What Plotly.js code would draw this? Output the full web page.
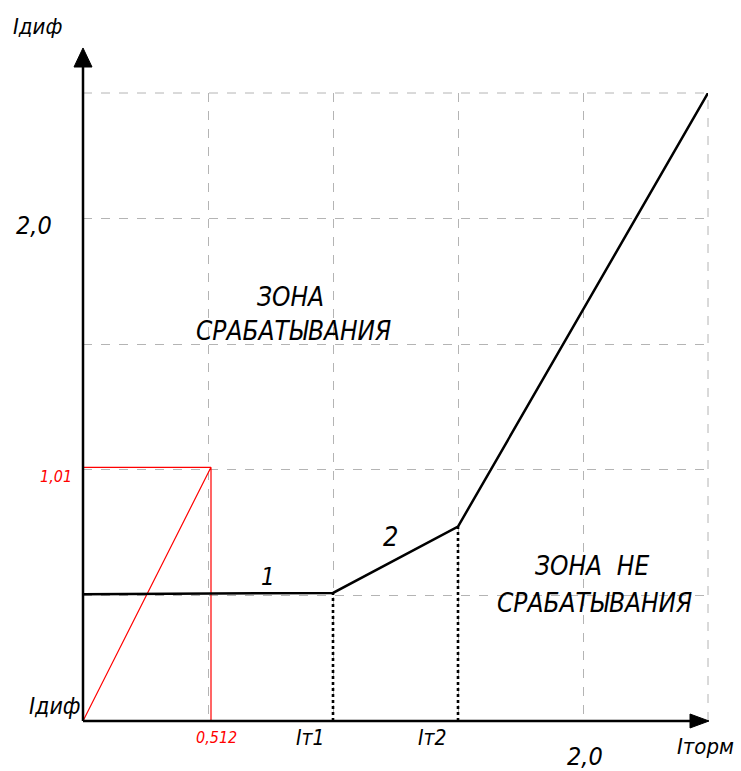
<!DOCTYPE html>
<html>
<head>
<meta charset="utf-8">
<script src="https://cdn.plot.ly/plotly-3.0.1.min.js"></script>
<style>html,body{margin:0;padding:0;background:#fff}#chart{width:741px;height:771px}</style>
</head>
<body>
<div id="chart"></div>
<script>
// characteristic (black) line
const restraintCurrent = [0, 1.0, 1.5, 2.5];
const diffCurrent = [0.505, 0.51, 0.774, 2.5];
// red check point
const checkX = 0.512;
const checkY = 1.01;
// breakpoint markers (dotted verticals)
const breakX = [1.0, 1.5];
const breakY = [0.51, 0.774];
// labels
const checkXLabel = "0,512";
const checkYLabel = "1,01";
const breakLabels = ["Iт1", "Iт2"];
const xTickLabel = "2,0";
const yTickLabel = "2,0";
const xAxisTitle = "Iторм";
const yAxisTitle = "Iдиф";
const originLabel = "Iдиф";
const segmentLabels = ["1", "2"];
const zoneTrip = ["ЗОНА", "СРАБАТЫВАНИЯ"];
const zoneNoTrip = ["ЗОНА  НЕ", "СРАБАТЫВАНИЯ"];

const AXMAX = 2.5;
const FONT = "Liberation Sans Narrow, DejaVu Sans Condensed, Arial Narrow, sans-serif";

const traces = [];
// red construction
traces.push({
  x: [0, checkX, checkX, null, 0, checkX],
  y: [0, checkY, 0, null, checkY, checkY],
  mode: "lines", line: {color: "#ff0000", width: 1.2},
  cliponaxis: false, hoverinfo: "skip", showlegend: false
});
// dotted verticals
breakX.forEach((bx, i) => {
  traces.push({
    x: [bx, bx], y: [0, breakY[i]],
    mode: "lines", line: {color: "#000", width: 2.6, dash: "dot"},
    cliponaxis: false, hoverinfo: "skip", showlegend: false
  });
});
// main characteristic
traces.push({
  x: restraintCurrent, y: diffCurrent,
  mode: "lines", line: {color: "#000", width: 2.5},
  cliponaxis: false, hoverinfo: "skip", showlegend: false
});

// annotations placed in paper space (value / axis max) so they may sit outside the plot
function ann(text, x, y, size, color) {
  return {text: text, x: x / AXMAX, y: y / AXMAX, xref: "paper", yref: "paper", showarrow: false,
    xanchor: "center", yanchor: "middle",
    font: {family: FONT, size: size, color: color || "#000", style: "italic"}};
}

const annotations = [
  ann(yAxisTitle, -0.184, 2.763, 22),
  ann(yTickLabel, -0.196, 1.971, 25),
  ann(checkYLabel, -0.108, 0.975, 16, "#ff0000"),
  ann(originLabel, -0.112, 0.060, 23),
  ann(checkXLabel, 0.532, -0.064, 16, "#ff0000"),
  ann(breakLabels[0], 0.908, -0.068, 21),
  ann(breakLabels[1], 1.396, -0.068, 21),
  ann(xTickLabel, 2.008, -0.143, 25),
  ann(xAxisTitle, 2.49, -0.10, 22),
  ann(zoneTrip[0], 0.828, 1.688, 26),
  ann(zoneTrip[1], 0.84, 1.553, 26),
  ann(zoneNoTrip[0], 2.036, 0.617, 26),
  ann(zoneNoTrip[1], 2.044, 0.470, 26),
  ann(segmentLabels[0], 0.74, 0.573, 24),
  ann(segmentLabels[1], 1.228, 0.736, 27)
];

const gridStyle = {color: "#b4b4b4", width: 1, dash: "dash"};
const shapes = [
  // outer (top / right) grid lines
  {type: "line", xref: "paper", yref: "paper", x0: 0, y0: 1, x1: 1, y1: 1, line: gridStyle, layer: "below"},
  {type: "line", xref: "paper", yref: "paper", x0: 1, y0: 0, x1: 1, y1: 1, line: gridStyle, layer: "below"},
  // axis lines with arrowheads (paper coordinates)
  {type: "line", xref: "paper", yref: "paper", x0: 0, y0: 0, x1: 0.975, y1: 0,
   line: {color: "#000", width: 2.5}, layer: "above"},
  {type: "line", xref: "paper", yref: "paper", x0: 0, y0: 0, x1: 0, y1: 1.045,
   line: {color: "#000", width: 2.5}, layer: "above"},
  {type: "path", xref: "paper", yref: "paper",
   path: "M 1.0016,0 L 0.9712,0.0111 L 0.9712,-0.0111 Z",
   fillcolor: "#000", line: {color: "#000", width: 1}, layer: "above"},
  {type: "path", xref: "paper", yref: "paper",
   path: "M 0,1.0717 L -0.0144,1.0414 L 0.0144,1.0414 Z",
   fillcolor: "#000", line: {color: "#000", width: 1}, layer: "above"}
];

const axisCommon = {
  range: [0, AXMAX], dtick: 0.5, tick0: 0,
  showgrid: true, gridcolor: "#b4b4b4", gridwidth: 1, griddash: "dash",
  zeroline: false, showline: false, showticklabels: false, ticks: "",
  fixedrange: true
};

const layout = {
  width: 741, height: 771,
  margin: {l: 83, r: 33, t: 93, b: 50, pad: 0},
  paper_bgcolor: "#fff", plot_bgcolor: "#fff",
  xaxis: Object.assign({}, axisCommon),
  yaxis: Object.assign({}, axisCommon),
  showlegend: false,
  annotations: annotations,
  shapes: shapes
};

Plotly.newPlot("chart", traces, layout, {staticPlot: true, displayModeBar: false});
</script>
</body>
</html>
